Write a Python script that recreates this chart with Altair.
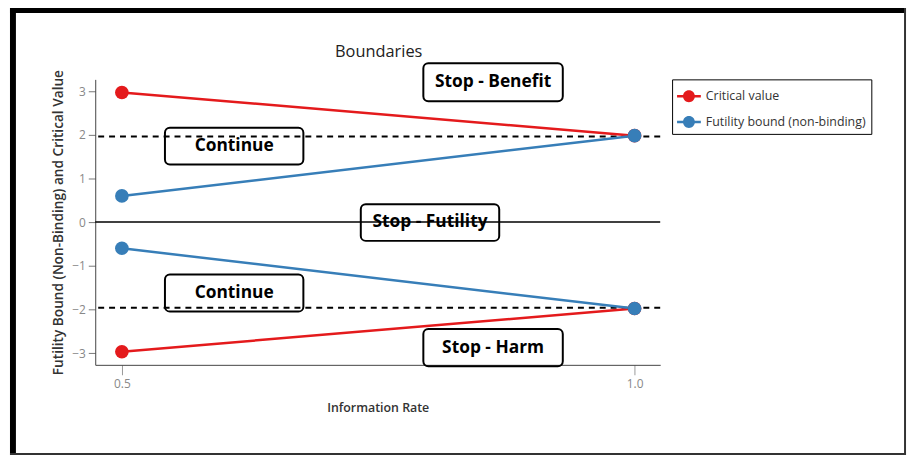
import altair as alt
import pandas as pd

# ---- data ----
info_rate = [0.5, 1.0]
crit_upper = [2.97, 1.98]
crit_lower = [-2.97, -1.98]
fut_upper = [0.60, 1.98]
fut_lower = [-0.60, -1.98]
series_names = ["Critical value", "Futility bound (non-binding)"]
series_colors = ["#e41a1c", "#377eb8"]

ref_levels = [1.96, -1.96]
zero_level = [0.0]

box_labels = ["Stop - Benefit", "Continue", "Stop - Futility", "Continue", "Stop - Harm"]
box_x1 = [0.794, 0.542, 0.733, 0.542, 0.794]
box_x2 = [0.930, 0.677, 0.868, 0.677, 0.930]
box_y1 = [3.64, 2.16, 0.41, -1.20, -2.45]
box_y2 = [2.77, 1.32, -0.43, -2.05, -3.30]

y_ticks = [-3, -2, -1, 0, 1, 2, 3]
x_ticks = [0.5, 1.0]
x_domain = [0.474, 1.025]
y_domain = [-3.27, 3.27]

# ---- tables ----
rows = []
for seg, name, vals in [
    ("cu", series_names[0], crit_upper),
    ("cl", series_names[0], crit_lower),
    ("fu", series_names[1], fut_upper),
    ("fl", series_names[1], fut_lower),
]:
    for xv, yv in zip(info_rate, vals):
        rows.append({"seg": seg, "series": name, "x": xv, "y": yv})
df = pd.DataFrame(rows)

boxes = pd.DataFrame({
    "label": box_labels, "x1": box_x1, "x2": box_x2, "y1": box_y1, "y2": box_y2,
})
boxes["xm"] = (boxes["x1"] + boxes["x2"]) / 2
boxes["ym"] = (boxes["y1"] + boxes["y2"]) / 2

FONT = "Open Sans"
xs = alt.Scale(domain=x_domain, nice=False, zero=False)
ys = alt.Scale(domain=y_domain, nice=False, zero=False)
cs = alt.Scale(domain=series_names, range=series_colors)

x_enc = alt.X("x:Q", scale=xs, title="Information Rate",
              axis=alt.Axis(values=x_ticks, format=".1f", grid=False, tickSize=10,
                            labelColor="#888", tickColor="#999", domainColor="#444",
                            labelFontSize=12, labelPadding=4, titleFontSize=12.5,
                            titleFontWeight=600, titleColor="#333", titlePadding=12,
                            labelFont=FONT, titleFont=FONT))
y_enc = alt.Y("y:Q", scale=ys, title="Futility Bound (Non-Binding) and Critical Value",
              axis=alt.Axis(values=y_ticks, grid=False, tickSize=7,
                            labelColor="#888", tickColor="#777", domainColor="#444",
                            labelFontSize=12, labelPadding=3, titleFontSize=13.8,
                            titleFontWeight=600, titleColor="#333", titlePadding=6,
                            labelFont=FONT, titleFont=FONT))

base = alt.Chart(df)

legend_path = ("M-1,-0.1H1V0.1H-1Z"
               "M0.5,0A0.5,0.5,0,1,1,-0.5,0A0.5,0.5,0,1,1,0.5,0Z")
legend_kwargs = dict(
    title=None, orient="none", legendX=582, legendY=0,
    symbolType=legend_path, symbolSize=576, symbolStrokeWidth=0,
    labelFontSize=12.5, labelFont=FONT, labelColor="#333", labelOffset=5,
    labelLimit=400, padding=5, rowPadding=7, strokeColor="black", fillColor="white",
)

lines = base.mark_line(strokeWidth=2.5).encode(
    x=x_enc, y=y_enc,
    color=alt.Color("series:N", scale=cs, legend=alt.Legend(**legend_kwargs)),
    detail="seg:N",
)
points = base.mark_circle(size=190, opacity=1).encode(
    x="x:Q", y="y:Q",
    color=alt.Color("series:N", scale=cs, legend=alt.Legend(**legend_kwargs)),
)

ref_df = pd.DataFrame({"y": ref_levels})
dashed = alt.Chart(ref_df).mark_rule(strokeDash=[6, 5], strokeWidth=2, color="black").encode(
    y=alt.Y("y:Q", scale=ys))
zero = alt.Chart(pd.DataFrame({"y": zero_level})).mark_rule(strokeWidth=1.5, color="black").encode(
    y=alt.Y("y:Q", scale=ys))

rects = alt.Chart(boxes).mark_rect(fill="white", fillOpacity=0, stroke="black",
                                   strokeWidth=2, cornerRadius=5).encode(
    x=alt.X("x1:Q", scale=xs), x2="x2:Q", y=alt.Y("y1:Q", scale=ys), y2="y2:Q")
texts = alt.Chart(boxes).mark_text(font=FONT, fontSize=17.5, fontWeight="bold",
                                   color="black", baseline="middle", align="center").encode(
    x=alt.X("xm:Q", scale=xs), y=alt.Y("ym:Q", scale=ys), text="label:N")

title = alt.Chart(pd.DataFrame({"t": ["Boundaries"]})).mark_text(
    font=FONT, fontSize=16.5, color="#222", baseline="middle", align="center").encode(
    text="t:N", x=alt.value(286), y=alt.value(-28))

# decorative outer frame of the figure
one = pd.DataFrame({"a": [0]})
frame_top = alt.Chart(one).mark_rule(color="black", strokeWidth=6).encode(
    x=alt.value(-86), x2=alt.value(818), y=alt.value(-70))
frame_left = alt.Chart(one).mark_rule(color="black", strokeWidth=6).encode(
    x=alt.value(-83), y=alt.value(-73), y2=alt.value(379))
frame_right = alt.Chart(one).mark_rule(color="#333", strokeWidth=2).encode(
    x=alt.value(817), y=alt.value(-73), y2=alt.value(379))
frame_bottom = alt.Chart(one).mark_rule(color="#333", strokeWidth=2).encode(
    x=alt.value(-86), x2=alt.value(818), y=alt.value(378))

chart = alt.layer(
    frame_top, frame_left, frame_right, frame_bottom,
    rects, texts, dashed, zero, lines, points, title,
).properties(
    width=570, height=288,
    autosize=alt.AutoSizeParams(type="none"),
    padding={"left": 88, "top": 70, "right": 250, "bottom": 93},
    background="white",
).configure_view(stroke=None)

chart.save("out.html", embed_options={"renderer": "svg", "actions": False})
